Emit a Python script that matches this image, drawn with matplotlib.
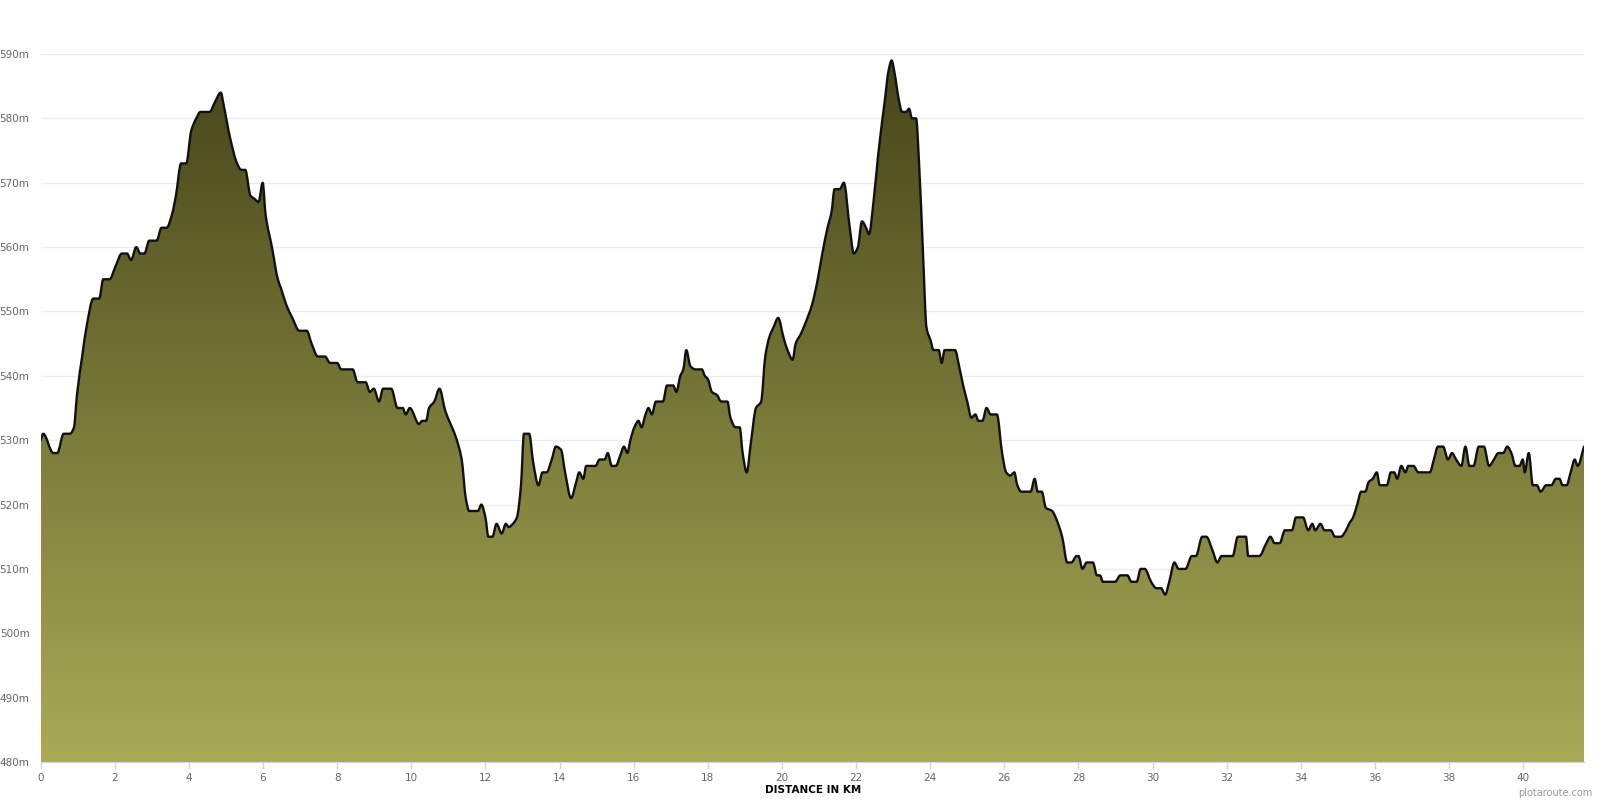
import numpy as np
import matplotlib
matplotlib.use("Agg")
import matplotlib.pyplot as plt
from matplotlib.colors import LinearSegmentedColormap
from matplotlib.path import Path
from matplotlib.patches import PathPatch

distance_km = [
    0.00, 0.07, 0.34, 0.45, 0.62, 0.79, 0.90, 0.98, 1.12, 1.25, 1.42, 1.58, 1.69, 1.86,
    2.02, 2.19, 2.33, 2.44, 2.58, 2.69, 2.80, 2.93, 3.13, 3.26, 3.40, 3.54, 3.65, 3.79,
    3.93, 4.06, 4.20, 4.31, 4.56, 4.70, 4.86, 4.94, 5.11, 5.30, 5.41, 5.52, 5.66, 5.77,
    5.88, 5.99, 6.07, 6.24, 6.40, 6.49, 6.63, 6.79, 6.98, 7.18, 7.31, 7.48, 7.67, 7.81,
    8.00, 8.11, 8.42, 8.55, 8.77, 8.88, 8.99, 9.13, 9.24, 9.46, 9.63, 9.77, 9.85, 9.96,
    10.21, 10.29, 10.40, 10.48, 10.62, 10.76, 10.92, 11.06, 11.17, 11.28, 11.36, 11.47,
    11.56, 11.80, 11.89, 12.00, 12.08, 12.19, 12.30, 12.44, 12.55, 12.63, 12.74, 12.85,
    12.96, 13.04, 13.18, 13.29, 13.43, 13.54, 13.65, 13.79, 13.90, 14.04, 14.15, 14.31,
    14.45, 14.53, 14.64, 14.72, 14.97, 15.08, 15.22, 15.30, 15.41, 15.52, 15.63, 15.74,
    15.83, 15.91, 16.02, 16.13, 16.21, 16.32, 16.40, 16.49, 16.60, 16.79, 16.90, 17.07,
    17.15, 17.26, 17.34, 17.42, 17.53, 17.67, 17.84, 17.92, 18.00, 18.11, 18.25, 18.36,
    18.53, 18.61, 18.75, 18.86, 18.94, 19.05, 19.16, 19.30, 19.44, 19.55, 19.66, 19.77,
    19.90, 20.04, 20.15, 20.29, 20.37, 20.51, 20.62, 20.81, 20.95, 21.09, 21.23, 21.34,
    21.42, 21.56, 21.67, 21.83, 21.94, 22.05, 22.16, 22.27, 22.35, 22.47, 22.60, 22.77,
    22.88, 22.96, 23.04, 23.15, 23.24, 23.35, 23.43, 23.51, 23.62, 23.70, 23.81, 23.90,
    24.01, 24.09, 24.23, 24.31, 24.39, 24.67, 24.78, 24.89, 25.00, 25.11, 25.22, 25.30,
    25.41, 25.52, 25.63, 25.80, 25.94, 26.05, 26.16, 26.27, 26.35, 26.46, 26.71, 26.82,
    26.90, 27.01, 27.12, 27.29, 27.42, 27.56, 27.70, 27.81, 27.95, 28.00, 28.11, 28.22,
    28.39, 28.50, 28.58, 28.66, 28.99, 29.13, 29.32, 29.43, 29.57, 29.68, 29.79, 29.96,
    30.10, 30.23, 30.34, 30.45, 30.59, 30.70, 30.89, 31.06, 31.17, 31.34, 31.45, 31.61,
    31.75, 31.86, 32.16, 32.30, 32.52, 32.58, 32.88, 33.07, 33.18, 33.29, 33.43, 33.57,
    33.76, 33.87, 34.06, 34.20, 34.31, 34.39, 34.53, 34.64, 34.81, 34.92, 35.08, 35.22,
    35.30, 35.41, 35.52, 35.63, 35.74, 35.83, 35.94, 36.05, 36.13, 36.32, 36.43, 36.52,
    36.60, 36.71, 36.82, 36.90, 37.04, 37.17, 37.48, 37.59, 37.70, 37.84, 37.97, 38.08,
    38.19, 38.33, 38.44, 38.55, 38.66, 38.80, 38.94, 39.08, 39.21, 39.33, 39.46, 39.57,
    39.68, 39.79, 39.90, 39.99, 40.04, 40.15, 40.26, 40.37, 40.47, 40.62, 40.76, 40.88,
    40.98, 41.06, 41.17, 41.28, 41.39, 41.47, 41.64,
]

elevation_m = [
    530, 531, 528, 528, 531, 531, 532, 537, 543, 548, 552, 552, 555, 555,
    557, 559, 559, 558, 560, 559, 559, 561, 561, 563, 563, 565, 568, 573,
    573, 578, 580, 581, 581, 582.5, 584, 582, 577, 573, 572, 572, 568, 567.5,
    567, 570, 565, 560, 555, 553.5, 551, 549, 547, 547, 545, 543, 543, 542,
    542, 541, 541, 539, 539, 537.5, 538, 536, 538, 538, 535, 535, 534, 535,
    532.5, 533, 533, 535, 536, 538, 534.5, 532.5, 531, 529, 527, 521,
    519, 519, 520, 518, 515, 515, 517, 515.5, 517, 516.5, 517, 518,
    523, 531, 531, 526.5, 523, 525, 525, 527, 529, 528.5, 525, 521,
    523.5, 525, 524, 526, 526, 527, 527, 528, 526, 526, 527.5, 529,
    528, 530, 532, 533, 532, 534, 535, 534, 536, 536, 538.5, 538.5,
    537.5, 540, 541, 544, 541.5, 541, 541, 540, 539.5, 537.5, 537, 536,
    536, 533.5, 532, 532, 528, 525, 529.5, 535, 536, 543, 546, 547.5,
    549, 546, 544, 542.5, 545, 546.5, 548, 551, 554.5, 559, 563, 565.5,
    569, 569, 570, 563, 559, 560, 564, 563, 562, 567, 574.5, 582.5,
    587.5, 589, 587, 583, 581, 581, 581.5, 580, 580, 573, 558.5, 547.5,
    545.5, 544, 544, 542, 544, 544, 541.5, 538.5, 536, 533.5, 534, 533,
    533, 535, 534, 534, 528, 525, 524.5, 525, 523, 522, 522, 524,
    522, 522, 519.5, 519, 517.5, 515, 511, 511, 512, 512, 510, 511,
    511, 509, 509, 508, 508, 509, 509, 508, 508, 510, 510, 508,
    507, 507, 506, 508, 511, 510, 510, 512, 512, 515, 515, 513,
    511, 512, 512, 515, 515, 512, 512, 514, 515, 514, 514, 516,
    516, 518, 518, 516, 517, 516, 517, 516, 516, 515, 515, 516,
    517, 518, 520, 522, 522, 523.5, 524, 525, 523, 523, 525, 525,
    524, 526, 525, 526, 526, 525, 525, 527, 529, 529, 527, 528,
    527, 526, 529, 526, 526, 529, 529, 526, 527, 528, 528, 529,
    528, 526, 526, 527, 525, 528, 523, 523, 522, 523, 523, 524,
    524, 523, 523, 525, 527, 526, 529,
]

x_ticks = list(range(0, 42, 2))
y_ticks = list(range(480, 600, 10))
y_tick_labels = [f"{v}m" for v in y_ticks]

x_max = distance_km[-1]
y_min, y_max = 480, 590


def smooth_path(xs, ys, base=None):
    """Monotone cubic (Fritsch-Carlson) Bezier path through the data points."""
    x = np.asarray(xs, float)
    y = np.asarray(ys, float)
    n = len(x)
    h = np.diff(x)
    d = np.diff(y) / h
    m = np.zeros(n)
    m[0], m[-1] = d[0], d[-1]
    for i in range(1, n - 1):
        if d[i - 1] * d[i] <= 0:
            m[i] = 0.0
        else:
            w1 = 2 * h[i] + h[i - 1]
            w2 = h[i] + 2 * h[i - 1]
            m[i] = (w1 + w2) / (w1 / d[i - 1] + w2 / d[i])
    verts = [(x[0], y[0])]
    codes = [Path.MOVETO]
    for i in range(n - 1):
        verts += [(x[i] + h[i] / 3, y[i] + m[i] * h[i] / 3),
                  (x[i + 1] - h[i] / 3, y[i + 1] - m[i + 1] * h[i] / 3),
                  (x[i + 1], y[i + 1])]
        codes += [Path.CURVE4] * 3
    if base is not None:
        verts += [(x[-1], base), (x[0], base), (x[0], y[0])]
        codes += [Path.LINETO, Path.LINETO, Path.CLOSEPOLY]
    return Path(np.array(verts), codes)


fig = plt.figure(figsize=(16, 8), dpi=100)
ax = fig.add_axes([0.0254, 0.0475, 0.9646, 0.885])

area_path = smooth_path(distance_km, elevation_m, base=y_min)
line_path = smooth_path(distance_km, elevation_m)

cmap = LinearSegmentedColormap.from_list("olive", ["#aaab57", "#454419"])
grad = np.linspace(0, 1, 256).reshape(-1, 1)
im = ax.imshow(grad, extent=[0, x_max, y_min, y_max], origin="lower",
               aspect="auto", cmap=cmap, zorder=2, interpolation="bilinear")
im.set_clip_path(area_path, ax.transData)

ax.add_patch(PathPatch(line_path, facecolor="none", edgecolor="#111111",
                       lw=1.7, zorder=3, joinstyle="round", capstyle="round"))

ax.set_xlim(0, x_max)
ax.set_ylim(y_min, y_max)
ax.set_xticks(x_ticks)
ax.set_xticklabels([str(t) for t in x_ticks])
ax.set_yticks(y_ticks)
ax.set_yticklabels(y_tick_labels)
ax.grid(axis="y", color="#ececec", lw=1, zorder=0)
ax.set_axisbelow(True)
for s in ["top", "right", "left"]:
    ax.spines[s].set_visible(False)
ax.spines["bottom"].set_color("#ccd6eb")
ax.spines["bottom"].set_zorder(4)
ax.tick_params(axis="y", length=0, pad=8, labelsize=7.5, labelcolor="#666666")
ax.tick_params(axis="x", length=5, width=1, color="#ccd6eb", pad=3,
               labelsize=7.5, labelcolor="#666666")

fig.text(0.508, 1 - 790 / 800, "DISTANCE IN KM", ha="center", va="center",
         fontsize=7.5, fontweight="bold", color="#000000")
fig.text(0.995, 1 - 793 / 800, "plotaroute.com", ha="right", va="center",
         fontsize=7, color="#999999")

fig.savefig("out.png", dpi=100)
